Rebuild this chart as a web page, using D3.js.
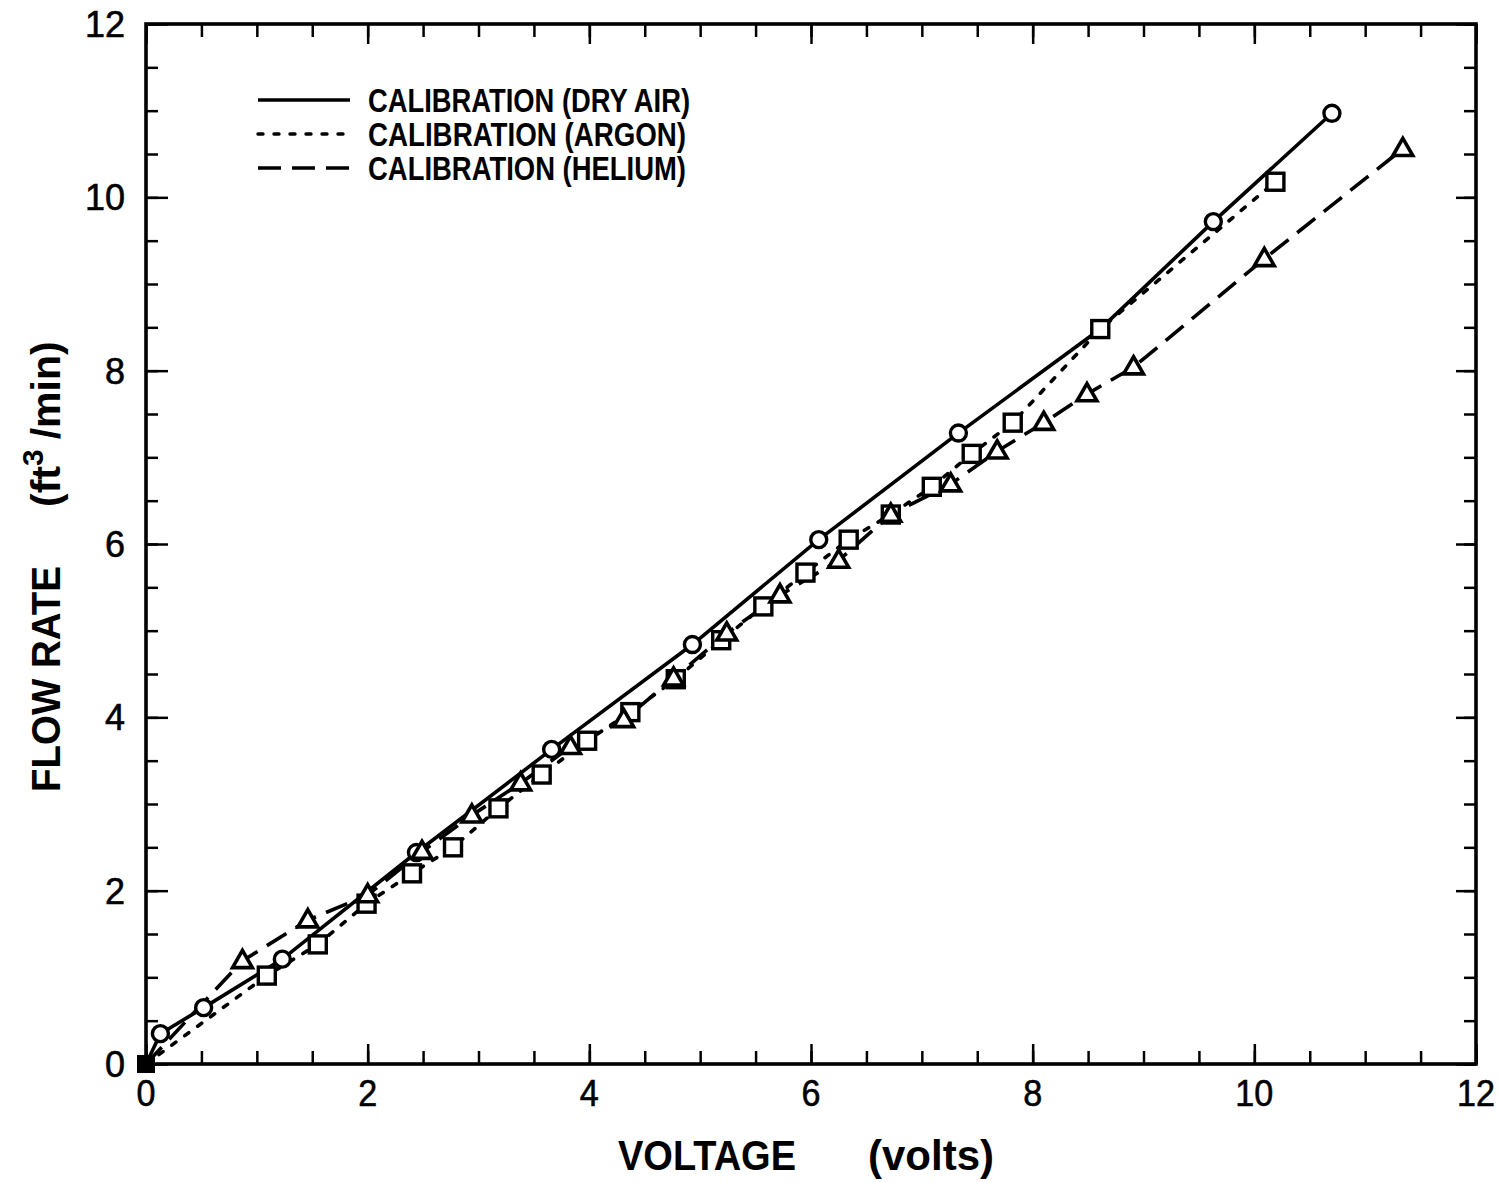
<!DOCTYPE html>
<html>
<head>
<meta charset="utf-8">
<script src="https://cdn.jsdelivr.net/npm/d3@7"></script>
<style>
  body { margin: 0; background: #fff; }
  svg { display: block; }
</style>
</head>
<body>
<script>
// Dry air calibration (circles, solid line)
var airVolts = [0, 0.13, 0.52, 1.23, 2.44, 3.66, 4.93, 6.07, 7.33, 8.61, 9.63, 10.70];
var airFlow  = [0, 0.35, 0.65, 1.21, 2.44, 3.63, 4.84, 6.05, 7.28, 8.48, 9.72, 10.97];

// Argon calibration (squares, dotted line)
var argonVolts = [0, 1.09, 1.55, 1.99, 2.40, 2.77, 3.18, 3.57, 3.98, 4.37, 4.78, 5.19, 5.57, 5.95, 6.34, 6.72, 7.09, 7.45, 7.82, 8.61, 10.19];
var argonFlow  = [0, 1.02, 1.38, 1.85, 2.20, 2.50, 2.95, 3.34, 3.73, 4.06, 4.44, 4.89, 5.28, 5.67, 6.05, 6.34, 6.66, 7.04, 7.40, 8.48, 10.18];

// Helium calibration (triangles, dashed line)
var heliumVolts = [0, 0.87, 1.46, 2.00, 2.49, 2.94, 3.38, 3.83, 4.31, 4.76, 5.24, 5.72, 6.25, 6.72, 7.26, 7.68, 8.10, 8.49, 8.91, 10.09, 11.34];
var heliumFlow  = [0, 1.19, 1.66, 1.95, 2.45, 2.87, 3.24, 3.66, 3.97, 4.45, 4.97, 5.41, 5.81, 6.34, 6.69, 7.07, 7.40, 7.73, 8.04, 9.29, 10.56];

var majorTicks = [0, 2, 4, 6, 8, 10, 12];
var minorTicks = d3.range(0, 12.01, 0.5);
var legendLabels = ["CALIBRATION (DRY AIR)", "CALIBRATION (ARGON)", "CALIBRATION (HELIUM)"];

drawChart();

function drawChart() {
	var width = 1499, height = 1183;
	var pLeft = 146, pRight = 1476, pTop = 24, pBottom = 1064;
	var font = "'Liberation Sans', Arial, sans-serif";

	var svg = d3.select("body").append("svg")
		.attr("width", width)
		.attr("height", height);

	var x = d3.scaleLinear().domain([0, 12]).range([pLeft, pRight]);
	var y = d3.scaleLinear().domain([0, 12]).range([pBottom, pTop]);

	function zip(a, b) {
		return a.map(function(v, i) { return [v, b[i]]; });
	}

	var series = [
		{ name: legendLabels[0], pts: zip(airVolts, airFlow), marker: "circle", dash: null, w: 322 },
		{ name: legendLabels[1], pts: zip(argonVolts, argonFlow), marker: "square", dash: "5,11", w: 318 },
		{ name: legendLabels[2], pts: zip(heliumVolts, heliumFlow), marker: "triangle", dash: "23,11", w: 318 }
	];

	// ticks: minor then major, on all four sides (pointing inward)
	function drawAxis(axisFn, scale, vals, size, transform) {
		svg.append("g")
			.attr("transform", transform)
			.call(axisFn(scale).tickValues(vals).tickSize(-size).tickFormat(""))
			.call(function(g) {
				g.select(".domain").remove();
				g.selectAll("line").attr("stroke", "#000").attr("stroke-width", 2.5);
			});
	}
	drawAxis(d3.axisBottom, x, minorTicks, 13, "translate(0," + pBottom + ")");
	drawAxis(d3.axisBottom, x, majorTicks, 20, "translate(0," + pBottom + ")");
	drawAxis(d3.axisTop, x, minorTicks, 13, "translate(0," + pTop + ")");
	drawAxis(d3.axisTop, x, majorTicks, 20, "translate(0," + pTop + ")");
	drawAxis(d3.axisLeft, y, minorTicks, 12, "translate(" + pLeft + ",0)");
	drawAxis(d3.axisLeft, y, majorTicks, 22, "translate(" + pLeft + ",0)");
	drawAxis(d3.axisRight, y, minorTicks, 12, "translate(" + pRight + ",0)");
	drawAxis(d3.axisRight, y, majorTicks, 20, "translate(" + pRight + ",0)");

	// frame
	svg.append("rect")
		.attr("x", pLeft).attr("y", pTop)
		.attr("width", pRight - pLeft).attr("height", pBottom - pTop)
		.attr("fill", "none").attr("stroke", "#000").attr("stroke-width", 3.6);

	// tick labels
	svg.append("g").selectAll("text")
		.data(majorTicks).enter().append("text")
		.attr("x", function(d) { return x(d); })
		.attr("y", pBottom + 42)
		.attr("text-anchor", "middle")
		.attr("font-family", font)
		.attr("font-size", 37)
		.attr("stroke", "#000").attr("stroke-width", 0.6)
		.attr("textLength", function(d) { return d >= 10 ? 38 : 19; })
		.attr("lengthAdjust", "spacingAndGlyphs")
		.text(function(d) { return d; });

	svg.append("g").selectAll("text")
		.data(majorTicks).enter().append("text")
		.attr("x", pLeft - 21)
		.attr("y", function(d) { return y(d) + 13; })
		.attr("text-anchor", "end")
		.attr("font-family", font)
		.attr("font-size", 36)
		.attr("stroke", "#000").attr("stroke-width", 0.6)
		.text(function(d) { return d; });

	// axis titles
	svg.append("text")
		.attr("x", 618).attr("y", 1170)
		.attr("font-family", font)
		.attr("font-weight", "bold")
		.attr("font-size", 43)
		.attr("textLength", 178)
		.attr("lengthAdjust", "spacingAndGlyphs")
		.text("VOLTAGE");
	svg.append("text")
		.attr("x", 868).attr("y", 1170)
		.attr("font-family", font)
		.attr("font-weight", "bold")
		.attr("font-size", 43)
		.attr("textLength", 126)
		.attr("lengthAdjust", "spacingAndGlyphs")
		.text("(volts)");

	var yTitle = svg.append("g")
		.attr("transform", "translate(60,0) rotate(-90)")
		.attr("font-family", font)
		.attr("font-weight", "bold")
		.attr("font-size", 41);
	yTitle.append("text")
		.attr("x", -792)
		.attr("textLength", 226)
		.attr("lengthAdjust", "spacingAndGlyphs")
		.text("FLOW RATE");
	var unit = yTitle.append("text").attr("x", -507);
	unit.append("tspan").text("(ft");
	unit.append("tspan").attr("dy", -17).attr("font-size", 30).text("3");
	unit.append("tspan").attr("dy", 17).attr("dx", 10).text("/min)");

	// lines
	var line = d3.line()
		.x(function(d) { return x(d[0]); })
		.y(function(d) { return y(d[1]); });

	svg.append("g").selectAll("path")
		.data(series).enter().append("path")
		.attr("d", function(s) { return line(s.pts); })
		.attr("fill", "none")
		.attr("stroke", "#000")
		.attr("stroke-width", 3.6)
		.attr("stroke-linecap", function(s) { return s.marker === "square" ? "round" : "butt"; })
		.attr("stroke-dasharray", function(s) { return s.dash; });

	// markers (origin is drawn as one filled square)
	var triangle = d3.symbol().type(d3.symbolTriangle).size(170);
	series.forEach(function(s) {
		var g = svg.append("g");
		var pts = s.pts.slice(1);
		if (s.marker === "circle") {
			g.selectAll("circle").data(pts).enter().append("circle")
				.attr("cx", function(d) { return x(d[0]); })
				.attr("cy", function(d) { return y(d[1]); })
				.attr("r", 8)
				.attr("fill", "#fff").attr("stroke", "#000").attr("stroke-width", 3.4);
		} else if (s.marker === "square") {
			g.selectAll("rect").data(pts).enter().append("rect")
				.attr("x", function(d) { return x(d[0]) - 8.5; })
				.attr("y", function(d) { return y(d[1]) - 8.5; })
				.attr("width", 17).attr("height", 17)
				.attr("fill", "#fff").attr("stroke", "#000").attr("stroke-width", 3.4);
		} else {
			g.selectAll("path").data(pts).enter().append("path")
				.attr("d", triangle)
				.attr("transform", function(d) { return "translate(" + x(d[0]) + "," + (y(d[1]) + 1) + ")"; })
				.attr("fill", "#fff").attr("stroke", "#000").attr("stroke-width", 3.6);
		}
	});

	svg.append("rect")
		.attr("x", x(0) - 9).attr("y", y(0) - 9)
		.attr("width", 18).attr("height", 18)
		.attr("fill", "#000");

	// legend
	var legend = svg.append("g").selectAll("g")
		.data(series).enter().append("g")
		.attr("transform", function(d, i) { return "translate(0," + (100 + i * 34) + ")"; });

	legend.append("line")
		.attr("x1", 258).attr("x2", 350)
		.attr("stroke", "#000").attr("stroke-width", 3.4)
		.attr("stroke-linecap", function(s) { return s.marker === "square" ? "round" : "butt"; })
		.attr("stroke-dasharray", function(s) { return s.dash; });

	legend.append("text")
		.attr("x", 368).attr("y", 12)
		.attr("font-family", font)
		.attr("font-weight", "bold")
		.attr("font-size", 33)
		.attr("textLength", function(s) { return s.w; })
		.attr("lengthAdjust", "spacingAndGlyphs")
		.text(function(s) { return s.name; });
}
</script>
</body>
</html>
